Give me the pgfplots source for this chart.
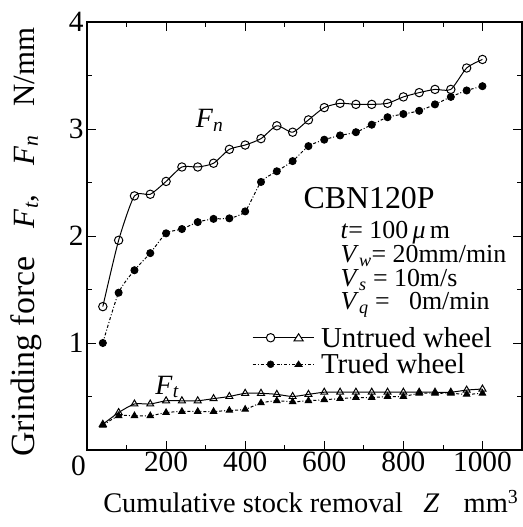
\documentclass[border=0pt]{standalone}
\usepackage{fontspec}
\setmainfont{Liberation Serif}
\usepackage{pgfplots}
\usepackage{pgfplotstable}
\pgfplotsset{compat=1.18}
\newcommand{\Fi}[2]{\textit{#1}\textsubscript{\textit{#2}}}
\pgfplotstableread{
Z    FnU   FnT   FtU   FtT
40   1.34  1.00  0.24  0.23
80   1.96  1.47  0.35  0.32
120  2.375 1.68  0.43  0.32
160  2.39  1.84  0.43  0.32
200  2.51  2.025 0.46  0.35
240  2.645 2.065 0.46  0.36
280  2.645 2.13  0.46  0.36
320  2.68  2.16  0.48  0.36
360  2.81  2.165 0.50  0.37
400  2.85  2.23  0.53  0.38
440  2.91  2.505 0.53  0.44
480  3.03  2.605 0.52  0.46
520  2.97  2.70  0.50  0.45
560  3.085 2.84  0.52  0.46
600  3.20  2.90  0.54  0.47
640  3.24  2.94  0.54  0.48
680  3.23  2.97  0.54  0.49
720  3.23  3.04  0.54  0.49
760  3.24  3.11  0.54  0.50
800  3.30  3.14  0.54  0.50
840  3.34  3.17  0.54  0.53
880  3.37  3.23  0.54  0.53
920  3.37  3.30  0.54  0.53
960  3.57  3.36  0.56  0.52
1000 3.65  3.40  0.57  0.53
}\data
\begin{document}
\begin{tikzpicture}
\begin{axis}[
  scale only axis, width=435bp, height=428bp,
  xmin=0, xmax=1100, ymin=0, ymax=4,
  clip=false,
  xtick={200,400,...,1000},
  minor xtick={100,300,...,900},
  ytick={1,2,3,4},
  minor ytick={0.5,1.5,2.5,3.5},
  tick align=inside,
  major tick length=9bp, minor tick length=5bp,
  tick style={black, line width=0.8pt},
  axis line style={line width=1.1pt},
  /pgf/number format/assume math mode=true,
  /pgf/number format/1000 sep={},
  ticklabel style={font=\fontsize{29.5}{30}\selectfont},
  xticklabel style={yshift=2bp},
  xlabel={\makebox[415bp][s]{\mbox{Cumulative stock removal}\hfill\textit{Z}\hspace{4bp}\hfill\mbox{mm\textsuperscript{3}}}},
  xlabel style={font=\fontsize{28.5}{30}\selectfont, at={(axis description cs:0.037,-0.145)}, anchor=base west, inner sep=0pt},
  ylabel={\makebox[429bp][s]{\fontsize{34}{30}\selectfont\mbox{Grinding force}\hfill\fontsize{31}{30}\selectfont\Fi{F}{t},\hfill\Fi{F}{n}\hfill N/mm}},
  ylabel style={at={(axis description cs:-0.177,0.485)}, anchor=north, inner sep=0pt},
  legend style={draw=none, fill=none, at={(axis cs:417,0.925)}, anchor=west, inner sep=0pt,
    font=\fontsize{29}{30}\selectfont, row sep=3bp, nodes={inner sep=1bp},
    /tikz/every odd column/.append style={column sep=6bp}},
  legend cell align=left,
]
\addplot[black, line width=1pt, smooth, tension=0.4, mark=o, mark size=4.2bp, mark options={solid, fill=white}, forget plot] table[x=Z, y=FnU] {\data};
\addplot[black, line width=1pt, dash dot, smooth, tension=0.4, mark=*, mark size=3.5bp, mark options={solid}, forget plot] table[x=Z, y=FnT] {\data};
\addplot[black, line width=1pt, smooth, tension=0.4, mark=triangle, mark size=4bp, mark options={solid, fill=white}, forget plot] table[x=Z, y=FtU] {\data};
\addplot[black, line width=1pt, dash dot, smooth, tension=0.4, mark=triangle*, mark size=3.6bp, mark options={solid}, forget plot] table[x=Z, y=FtT] {\data};
\addlegendimage{legend image code/.code={
  \draw[black, line width=1pt] (0bp,0bp) -- (61bp,0bp);
  \draw[black, line width=1pt, fill=white] (18bp,0bp) circle (4.2bp);
  \draw[black, line width=1pt, fill=white] (46bp,4bp) -- (41.5bp,-3bp) -- (50.5bp,-3bp) -- cycle;
}}
\addlegendentry{Untrued wheel}
\addlegendimage{legend image code/.code={
  \draw[black, line width=1pt, dash dot] (0bp,0bp) -- (61bp,0bp);
  \fill[black] (18bp,0bp) circle (3.5bp);
  \fill[black] (46bp,3.5bp) -- (42bp,-2.5bp) -- (50bp,-2.5bp) -- cycle;
}}
\addlegendentry{Trued wheel}
\node[font=\fontsize{28}{30}\selectfont] at (axis cs:310,3.08) {\Fi{F}{n}};
\node[font=\fontsize{28}{30}\selectfont] at (axis cs:203,0.59) {\Fi{F}{t}};
\node[font=\fontsize{32}{30}\selectfont, anchor=base west, inner sep=0pt] at (axis cs:547,2.26) {CBN120P};
\node[font=\fontsize{26}{25}\selectfont, anchor=base west, inner sep=0pt] at (axis cs:641,1.98) {\textit{t}= 100\,\textit{μ}\,m};
\node[font=\fontsize{26}{25}\selectfont, anchor=base west, inner sep=0pt] at (axis cs:641,1.75) {\Fi{V}{w}= 20mm/min};
\node[font=\fontsize{26}{25}\selectfont, anchor=base west, inner sep=0pt] at (axis cs:641,1.53) {\Fi{V}{s} = 10m/s};
\node[font=\fontsize{26}{25}\selectfont, anchor=base west, inner sep=0pt] at (axis cs:641,1.31) {\Fi{V}{q} =\ \ \ 0m/min};
\node[font=\fontsize{29.5}{30}\selectfont, anchor=north east, inner sep=0pt] at ([shift={(-1bp,-6bp)}]axis cs:0,0) {0};
\coordinate (ll) at (rel axis cs:0,0);
\coordinate (ur) at (rel axis cs:1,1);
\end{axis}
\pgfresetboundingbox
\path ([shift={(-87bp,-77bp)}]ll) rectangle ([shift={(1bp,22bp)}]ur);
\end{tikzpicture}
\end{document}
